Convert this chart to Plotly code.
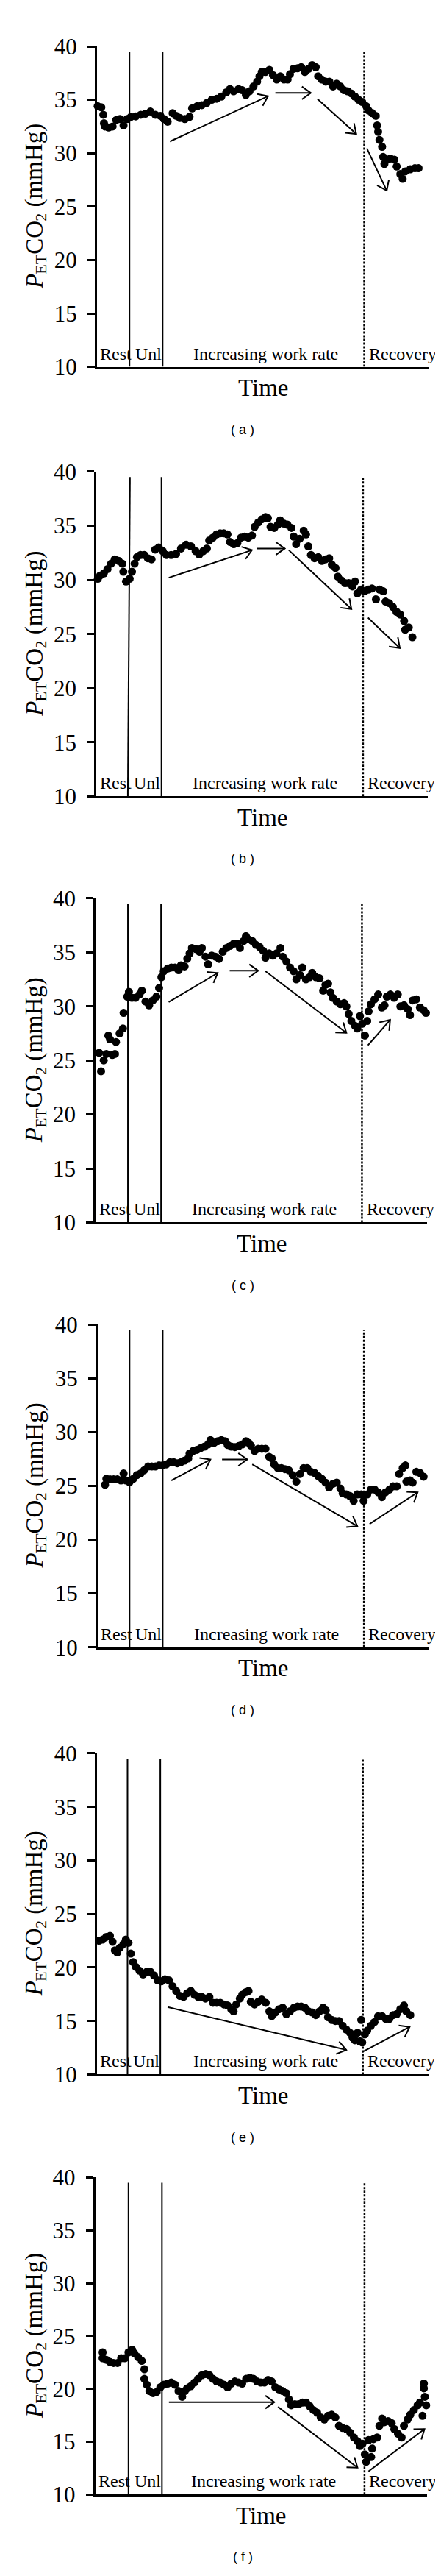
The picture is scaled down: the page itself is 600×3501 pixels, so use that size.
import math
import plotly.graph_objects as go

# ---------------- data (time in arbitrary units, PETCO2 in mmHg) ----------------
time_a = [0.2,1.3,1.9,2.1,2.4,3.5,4.7,5.8,6.9,8.0,9.1,10.2,11.7,13.2,14.6,16.1,17.6,19.1,20.2,21.3,
          22.8,23.9,25.0,26.5,27.9,28.7,30.2,31.6,33.1,34.6,36.1,37.5,39.0,40.1,41.2,42.7,43.8,44.9,46.0,47.2,
          48.3,49.0,49.7,50.8,52.0,53.1,54.2,55.3,56.4,57.5,58.2,59.3,60.5,61.6,62.7,63.8,64.9,66.0,66.7,67.8,
          69.0,70.1,71.2,72.3,73.4,74.5,75.6,76.7,77.8,78.9,80.0,81.2,81.9,83.0,84.1,84.5,84.8,85.2,86.0,86.3,
          86.7,87.4,88.5,89.7,90.4,91.5,92.2,93.0,94.5,95.9,97.0]
petco2_a = [34.4,34.3,33.6,32.8,32.5,32.4,32.5,33.1,33.2,32.6,33.2,33.4,33.45,33.6,33.7,33.9,33.6,33.5,33.2,32.95,
            33.75,33.5,33.3,33.2,33.4,34.2,34.4,34.5,34.7,35.0,35.1,35.3,35.7,36.0,35.8,36.0,35.9,35.45,35.8,36.25,
            36.7,37.2,37.6,37.6,37.8,37.3,36.9,37.2,36.9,36.9,37.4,37.9,37.95,38.05,37.6,37.9,38.25,38.05,37.2,36.9,
            36.7,36.7,36.25,36.5,36.25,35.9,35.8,35.6,35.3,35.0,34.8,34.4,34.0,33.75,33.5,32.6,32.0,31.25,30.6,29.65,
            29.0,29.4,29.5,29.4,28.75,28.05,27.6,28.3,28.5,28.6,28.6]

time_b = [0.4,1.1,2.2,3.3,4.4,5.5,6.7,7.8,8.1,8.9,10.0,10.7,11.5,12.2,13.3,14.4,15.5,16.6,17.7,18.8,
          20.0,21.1,22.5,24.0,25.5,27.0,28.5,29.9,31.0,32.2,33.3,34.0,35.1,36.2,37.3,38.4,39.5,40.3,41.4,42.5,
          43.6,44.7,45.8,46.9,47.7,48.8,49.9,51.0,51.7,52.5,53.6,54.7,55.4,56.5,57.6,58.8,59.5,60.2,61.3,62.5,
          63.2,63.9,64.7,65.8,66.9,68.0,69.1,70.2,71.0,72.1,72.8,73.9,75.0,76.1,77.2,78.0,78.7,79.8,80.9,82.0,
          83.1,84.3,85.4,86.5,87.2,88.3,89.4,90.5,91.6,92.8,93.1,94.2,95.3]
petco2_b = [30.1,30.4,30.6,31.0,31.5,31.9,31.75,31.5,30.75,29.85,30.1,30.75,31.5,32.1,32.3,32.3,32.0,31.9,32.8,33.0,
            32.65,32.3,32.3,32.4,32.9,33.25,33.1,32.65,32.35,32.65,32.9,33.65,33.9,34.2,34.3,34.3,34.2,33.5,33.3,33.4,
            33.9,34.0,33.9,34.1,34.9,35.3,35.6,35.8,35.7,34.9,34.8,35.1,35.5,35.2,35.1,34.8,34.0,33.3,33.8,34.55,
            34.2,33.1,32.3,32.0,32.1,31.75,31.9,32.0,31.4,31.1,30.3,29.95,29.7,29.7,29.4,29.85,28.75,29.1,28.95,29.1,
            29.2,28.2,29.1,28.95,28.0,27.85,27.5,27.05,26.8,26.2,25.4,25.6,24.7]

time_c = [1.0,1.6,2.4,3.2,3.8,4.3,5.0,5.8,6.1,7.2,8.2,8.4,9.5,10.0,10.9,12.0,13.2,13.9,15.0,16.1,
          17.2,18.3,19.1,19.8,20.5,21.7,22.8,23.9,25.0,25.7,26.8,27.6,28.3,29.0,30.2,31.3,32.0,33.1,33.9,35.0,
          36.1,37.2,38.3,39.4,40.5,41.6,42.7,43.5,44.6,45.3,46.0,47.2,48.3,49.4,50.5,51.2,52.3,53.4,54.5,55.7,
          56.4,57.5,58.6,59.7,60.5,61.6,62.3,63.4,64.5,65.3,66.4,67.5,68.6,69.3,70.1,70.8,71.5,72.7,73.8,74.9,
          75.6,76.3,77.1,78.2,78.9,79.7,80.4,81.2,81.9,82.3,83.0,84.1,85.2,86.3,87.1,87.8,88.9,90.0,91.1,91.9,
          93.0,94.1,94.8,95.6,96.7,97.8,98.9,99.6,100.1]
petco2_c = [25.7,24.0,25.0,25.6,27.3,26.95,25.5,25.6,26.7,27.5,27.95,29.4,30.9,31.35,30.8,30.8,31.1,31.45,30.45,30.1,
            30.55,30.9,31.7,32.7,33.25,33.5,33.6,33.6,33.35,33.8,33.7,34.4,34.9,35.4,35.3,35.05,35.4,34.6,33.9,34.7,
            34.6,34.4,35.05,35.4,35.6,35.8,35.8,35.4,36.05,36.5,36.2,36.05,35.7,35.5,35.15,34.5,34.9,34.7,34.9,35.4,
            34.6,34.15,33.6,33.25,32.5,32.9,33.6,32.5,32.7,33.1,32.7,32.6,31.45,32.0,32.1,31.3,30.8,30.45,30.2,30.3,
            30.0,29.3,28.65,28.2,27.95,29.1,28.4,27.3,28.65,29.55,30.2,30.65,31.1,29.9,30.1,30.9,31.1,30.8,31.1,30.0,
            30.1,29.75,29.2,30.55,30.65,29.9,29.65,29.4,30.55]

time_d = [2.2,2.6,3.7,4.8,5.9,7.0,7.8,8.5,9.6,10.7,11.8,12.9,14.0,15.2,16.3,17.4,18.5,19.6,20.7,21.8,
          22.9,24.0,25.1,26.2,27.3,27.7,28.8,29.9,31.0,32.2,33.3,34.0,35.1,36.2,37.3,38.4,39.2,40.3,41.4,42.5,
          43.6,44.7,45.5,46.2,47.3,48.4,49.5,50.6,51.7,52.5,53.2,54.3,55.4,56.5,57.6,58.8,59.9,61.0,62.1,63.2,
          64.3,65.4,66.5,67.6,68.7,69.8,71.0,72.1,73.2,73.9,75.0,76.1,77.2,78.3,79.5,80.2,81.3,82.4,83.5,84.6,
          85.7,86.8,88.0,89.1,90.2,90.9,92.0,92.8,93.1,94.2,95.0,96.1,97.2,98.3]
petco2_d = [25.1,25.65,25.6,25.6,25.6,25.5,26.15,25.5,25.35,25.65,26.0,26.15,26.45,26.8,26.8,26.8,26.9,26.9,27.0,27.2,
            27.2,27.1,27.2,27.35,27.55,28.0,28.25,28.35,28.5,28.65,28.85,29.25,29.0,29.15,29.25,29.15,28.8,28.65,28.6,28.7,
            28.85,29.15,29.0,28.75,28.25,28.45,28.45,28.45,27.7,27.55,27.0,26.65,26.65,26.55,26.45,26.0,25.4,26.1,26.65,26.65,
            26.3,26.2,25.9,25.65,25.3,24.85,25.2,25.3,24.75,24.3,24.2,24.05,23.6,24.2,24.2,23.6,24.2,24.65,24.65,24.4,
            23.95,24.4,24.65,24.95,24.95,26.1,26.65,26.9,25.4,25.5,25.3,26.3,26.2,25.85]

time_e = [0.6,1.7,2.8,3.9,4.7,5.4,6.1,6.9,8.0,8.7,9.5,10.2,10.9,11.7,12.8,13.9,15.0,16.1,17.2,18.3,
          19.4,20.5,21.7,22.8,23.9,25.0,26.1,27.2,28.3,29.4,30.5,31.6,32.7,33.9,35.0,36.1,37.2,38.3,39.4,40.5,
          41.2,42.0,43.1,43.8,44.9,45.7,46.4,47.5,48.6,49.7,50.9,52.0,52.7,53.8,54.9,56.0,57.1,58.2,59.4,60.5,
          61.6,62.7,63.8,64.9,66.0,67.1,68.2,69.0,69.7,70.8,71.9,73.0,74.1,75.2,76.3,77.1,77.8,78.6,79.3,79.7,
          80.0,80.8,81.5,82.6,83.7,84.8,86.0,87.1,88.2,89.3,90.4,91.5,92.6,93.3,94.5]
petco2_e = [22.5,22.6,22.85,22.95,22.4,21.6,21.4,21.85,22.2,22.6,22.3,21.3,20.5,20.05,19.7,19.35,19.6,19.6,19.25,18.8,
            18.7,18.9,18.8,18.25,17.8,17.35,17.25,17.6,17.8,17.45,17.25,17.25,17.1,17.25,16.7,16.7,16.7,16.55,16.45,16.1,
            15.9,16.55,17.1,17.45,17.7,17.8,16.8,16.55,16.8,17.0,16.7,15.9,15.45,15.8,16.1,16.25,15.65,15.9,16.25,16.35,
            16.35,16.25,15.9,15.8,15.55,15.9,16.25,16.0,15.35,15.1,15.0,15.0,14.55,14.2,13.9,13.45,13.2,13.9,13.1,15.1,
            13.0,13.75,14.1,14.55,14.9,15.45,15.45,15.2,15.2,15.55,15.65,16.1,16.45,15.9,15.55]

time_f = [2.2,2.2,3.3,4.4,5.5,6.7,7.8,8.9,10.0,11.1,11.8,12.9,14.0,14.8,14.8,15.5,16.3,17.4,18.5,19.6,
          20.7,21.8,22.9,24.0,25.1,26.2,27.0,27.7,28.8,29.9,31.0,32.2,33.3,34.4,35.5,36.6,37.7,38.8,39.9,41.0,
          42.1,43.2,44.3,45.5,46.6,47.7,48.8,49.9,51.0,52.1,53.2,54.3,55.4,56.5,57.6,58.4,59.1,60.2,61.3,62.5,
          63.6,64.7,65.8,66.9,68.0,69.1,70.2,71.3,72.4,73.5,74.6,75.8,76.9,78.0,79.1,79.8,80.6,81.3,81.7,82.4,
          83.2,83.5,83.9,85.0,85.7,86.5,87.2,88.3,89.4,90.2,91.3,92.4,93.1,94.2,95.0,96.1,97.2,97.9,98.7,99.1,
          99.1,99.4,99.8]
petco2_f = [23.45,22.9,22.75,22.55,22.45,22.45,22.9,22.9,23.45,23.7,23.35,23.0,22.65,21.85,20.95,20.4,19.8,19.6,19.7,20.15,
            20.4,20.5,20.6,20.4,19.8,19.25,19.8,20.05,20.25,20.6,20.95,21.3,21.4,21.3,20.95,20.7,20.6,20.4,20.15,20.5,
            20.7,20.6,20.5,20.95,21.05,20.95,20.7,20.6,20.6,20.85,20.7,20.15,19.95,19.8,19.6,19.0,18.45,18.55,18.55,18.7,
            18.7,18.35,18.0,17.75,17.3,17.1,17.45,17.55,17.3,16.5,16.3,16.2,15.85,15.4,15.05,14.6,14.8,13.8,13.1,15.15,
            13.55,14.35,15.25,15.4,16.5,17.2,16.85,16.95,16.75,16.2,15.75,15.4,16.5,17.1,17.55,18.0,18.45,18.7,17.45,20.05,
            20.5,19.25,18.45]

# phase boundaries (time units)
rest_end_bottom = [9.8, 9.45, 9.7, 9.6, 9.2, 10.0]
rest_end_top = [9.8, 10.1, 9.7, 9.6, 9.2, 10.0]
unl_end = [19.8, 19.6, 19.7, 19.6, 19.1, 20.1]
recovery_start = [80.6, 80.4, 80.3, 80.3, 80.2, 81.2]
boundary_top = 39.5

# trend arrows: (tail time, tail value, head time, head value)
arrows_a = [(22.0, 31.1, 51.6, 35.34), (53.8, 35.64, 64.5, 35.64), (66.5, 35.07, 78.2, 31.8), (81.4, 30.45, 87.4, 26.5)]
arrows_b = [(21.8, 30.2, 46.9, 32.75), (48.4, 32.9, 56.8, 32.9), (58.0, 32.75, 76.9, 27.3), (81.9, 26.5, 91.5, 23.7)]
arrows_c = [(22.0, 30.4, 36.8, 33.1), (40.4, 33.3, 49.0, 33.3), (51.2, 33.25, 75.6, 27.55), (82.1, 26.4, 88.8, 28.75)]
arrows_d = [(22.2, 25.5, 34.0, 27.45), (37.5, 27.45, 45.1, 27.45), (46.6, 27.0, 78.3, 21.25), (82.0, 21.45, 96.5, 24.4)]
arrows_e = [(21.3, 16.3, 75.2, 12.3), (80.0, 12.1, 94.3, 14.45)]
arrows_f = [(22.2, 18.75, 54.0, 18.75), (55.1, 18.3, 79.1, 12.55), (82.4, 12.2, 99.3, 16.2)]

y_ticks = [10, 15, 20, 25, 30, 35, 40]
phase_labels = ["Rest", "Unl", "Increasing work rate", "Recovery"]
panel_letters = ["a", "b", "c", "d", "e", "f"]
times = [time_a, time_b, time_c, time_d, time_e, time_f]
values = [petco2_a, petco2_b, petco2_c, petco2_d, petco2_e, petco2_f]
arrows = [arrows_a, arrows_b, arrows_c, arrows_d, arrows_e, arrows_f]

# y-axis title pieces: (text, is_subscript, italic, advance width in em)
title_pieces = [("P", False, True, 0.611), ("ET", True, False, 1.222), ("CO", False, False, 1.389),
                ("2", True, False, 0.5), ("(mmHg)", False, False, 3.444)]

# ---------------- layout geometry (px) ----------------
W, H = 600, 3501
axis_left_px = [124, 123.3, 122.3, 125, 124, 121.7]
axis_top_px = [38.4, 622.2, 1208, 1793, 2381.7, 2964]
axis_bottom_px = [478.4, 1068, 1653, 2236, 2822.7, 3399.3]
plot_w_px = 451
SERIF = "Liberation Serif"
SANS = "Liberation Sans"
ARM_PX = 15
ARM_ANGLE = math.radians(36)
TITLE_MAIN, TITLE_SUB = 33, 22
TITLE_BASELINE_X = 50      # screen x of main baseline of rotated title
SUB_DROP = 5               # subscript baseline offset (px)
SPACE_EM = 0.25

fig = go.Figure()
shapes = []
annotations = []
axes_layout = {}

for i in range(6):
    n = "" if i == 0 else str(i + 1)
    xa, ya = "x" + n, "y" + n
    fig.add_trace(go.Scatter(
        x=times[i], y=values[i], mode="markers",
        marker=dict(color="black", size=11, line=dict(width=0)),
        xaxis=xa, yaxis=ya, cliponaxis=False, showlegend=False, hoverinfo="skip"))

    x0 = axis_left_px[i] / W
    x1 = (axis_left_px[i] + plot_w_px) / W
    y0 = 1 - axis_bottom_px[i] / H
    y1 = 1 - axis_top_px[i] / H
    axes_layout["xaxis" + n] = dict(
        domain=[x0, x1], range=[0, 100], anchor=ya, showline=True, linecolor="black",
        linewidth=3, ticks="", showticklabels=False, showgrid=False, zeroline=False)
    axes_layout["yaxis" + n] = dict(
        domain=[y0, y1], range=[10, 40], anchor=xa, showline=True, linecolor="black",
        linewidth=3, ticks="outside", ticklen=10, tickwidth=2.5, tickcolor="black",
        tickvals=y_ticks, ticktext=[str(t) for t in y_ticks],
        tickfont=dict(family=SERIF, size=31, color="black"), ticklabelstandoff=8,
        showgrid=False, zeroline=False)

    # phase boundaries
    shapes.append(dict(type="line", xref=xa, yref=ya, x0=rest_end_bottom[i], x1=rest_end_top[i],
                       y0=10, y1=boundary_top, line=dict(color="black", width=2)))
    shapes.append(dict(type="line", xref=xa, yref=ya, x0=unl_end[i], x1=unl_end[i],
                       y0=10, y1=boundary_top, line=dict(color="black", width=2)))
    shapes.append(dict(type="line", xref=xa, yref=ya, x0=recovery_start[i], x1=recovery_start[i],
                       y0=10, y1=boundary_top, line=dict(color="black", width=2.5, dash="3px,2px")))

    # arrows: shaft + open chevron head, drawn as line traces on the panel axes
    px_x = plot_w_px / 100.0
    px_y = (axis_bottom_px[i] - axis_top_px[i]) / 30.0
    ax_, ay_ = [], []
    for (tx, ty, hx, hy) in arrows[i]:
        ang = math.atan2((hy - ty) * px_y, (hx - tx) * px_x)
        arms = []
        for s in (1, -1):
            a = ang + math.pi + s * ARM_ANGLE
            arms.append((hx + ARM_PX * math.cos(a) / px_x, hy + ARM_PX * math.sin(a) / px_y))
        ax_ += [tx, hx, None, arms[0][0], hx, arms[1][0], None]
        ay_ += [ty, hy, None, arms[0][1], hy, arms[1][1], None]
    fig.add_trace(go.Scatter(x=ax_, y=ay_, mode="lines", line=dict(color="black", width=2),
                             xaxis=xa, yaxis=ya, cliponaxis=False, showlegend=False,
                             hoverinfo="skip"))

    # phase labels
    label_x = [0.5, rest_end_bottom[i] + 1.3, 28.5, recovery_start[i] + 0.9]
    for lab, lx in zip(phase_labels, label_x):
        annotations.append(dict(x=lx, y=10, xref=xa, yref=ya, text=lab, showarrow=False,
                                xanchor="left", yanchor="bottom", yshift=3,
                                font=dict(family=SERIF, size=24, color="black")))

    # x-axis title
    annotations.append(dict(x=(axis_left_px[i] + plot_w_px / 2) / W, y=1 - (axis_bottom_px[i] + 29) / H,
                            xref="paper", yref="paper", text="Time", showarrow=False,
                            xanchor="center", yanchor="middle",
                            font=dict(family=SERIF, size=33, color="black")))

    # y-axis title, rotated, built piece by piece (P italic, ET and 2 as subscripts)
    widths = []
    for (txt, is_sub, ital, em) in title_pieces:
        widths.append(em * (TITLE_SUB if is_sub else TITLE_MAIN))
    total = sum(widths) + SPACE_EM * TITLE_MAIN
    cy = (axis_top_px[i] + axis_bottom_px[i]) / 2 + 1
    cursor = cy + total / 2
    for k, (txt, is_sub, ital, em) in enumerate(title_pieces):
        if txt.startswith("("):
            cursor -= SPACE_EM * TITLE_MAIN
        size = TITLE_SUB if is_sub else TITLE_MAIN
        base = TITLE_BASELINE_X + (SUB_DROP if is_sub else 0)
        cx = base - 0.3375 * size
        annotations.append(dict(x=cx / W, y=1 - cursor / H, xref="paper", yref="paper",
                                text=txt, textangle=-90, showarrow=False, borderpad=0,
                                xanchor="center", yanchor="bottom",
                                font=dict(family=SERIF, size=size, color="black",
                                          style="italic" if ital else "normal")))
        cursor -= widths[k]

    # caption
    annotations.append(dict(x=322 / W, y=1 - (axis_bottom_px[i] + 86) / H, xref="paper", yref="paper",
                            text="( " + panel_letters[i] + " )", showarrow=False,
                            xanchor="center", yanchor="middle",
                            font=dict(family=SANS, size=18, color="black")))

fig.update_layout(
    width=W, height=H, margin=dict(l=0, r=0, t=0, b=0),
    paper_bgcolor="white", plot_bgcolor="white", showlegend=False,
    shapes=shapes, annotations=annotations, **axes_layout)

fig.write_html("out.html")
